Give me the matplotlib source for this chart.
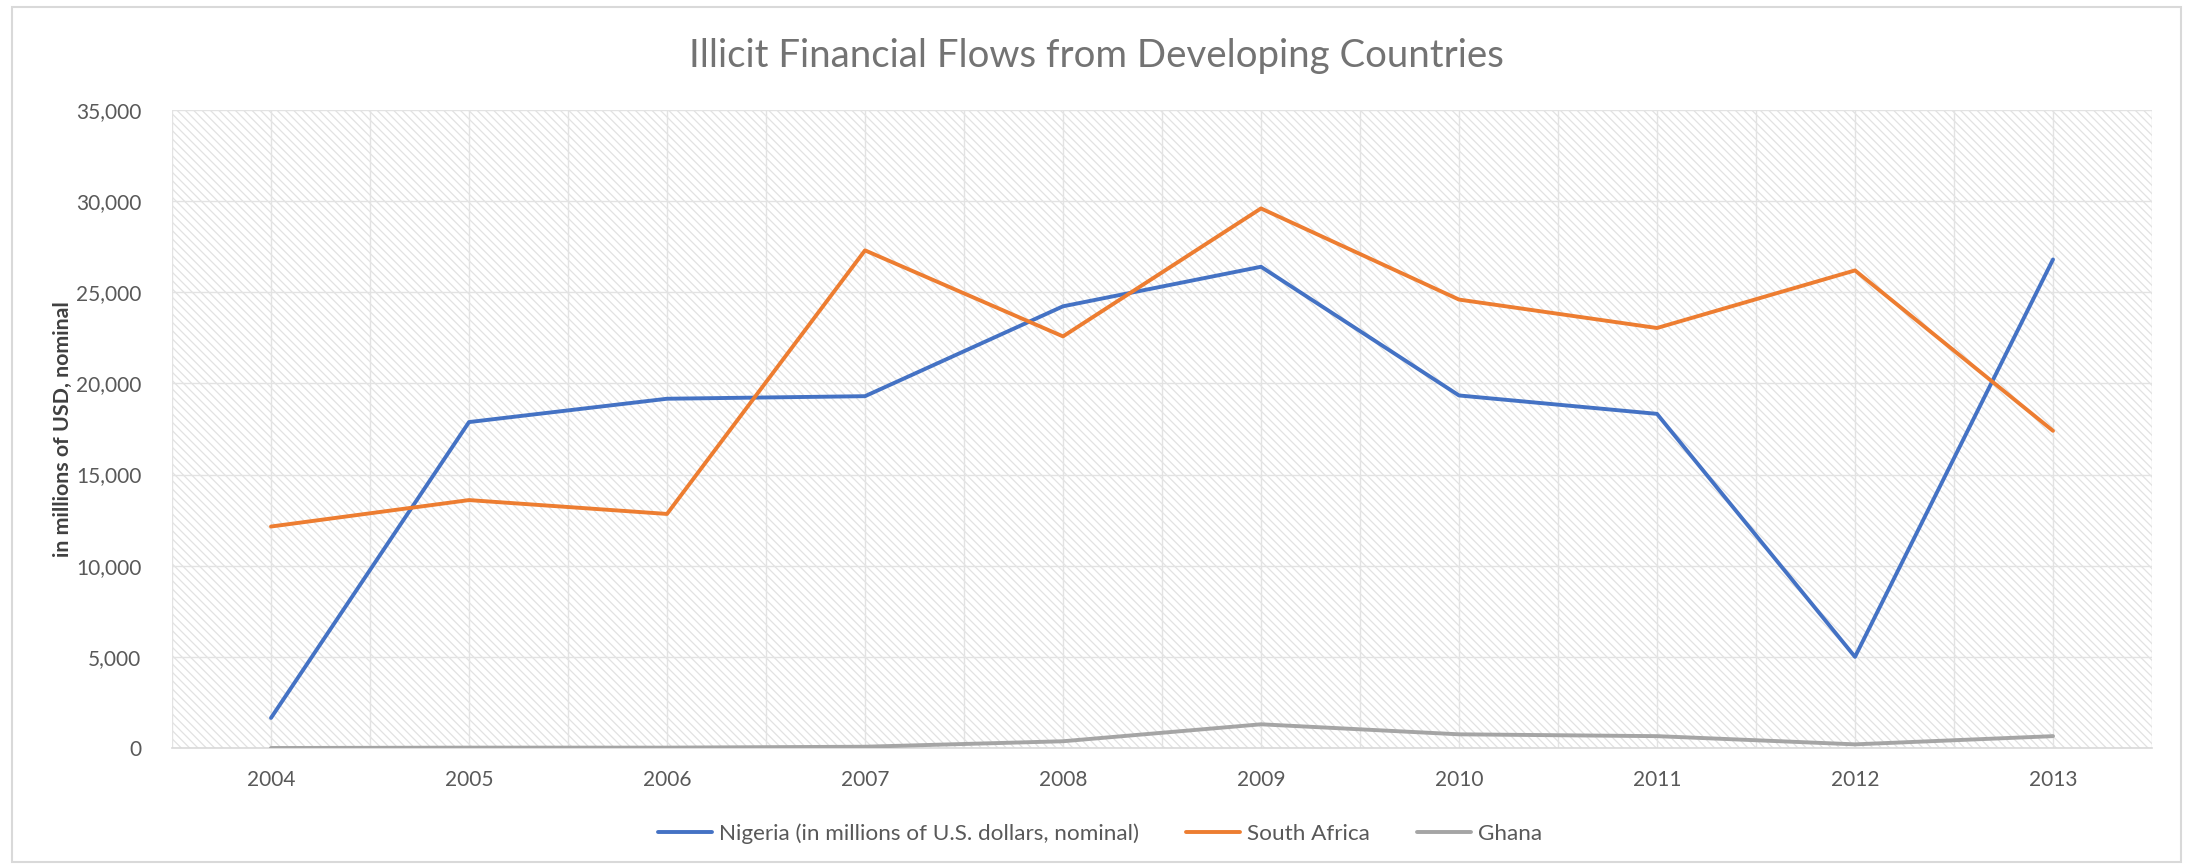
#!/usr/bin/env python3
# Illicit financial flows - line chart

import numpy as np
import matplotlib
matplotlib.use("Agg")
import matplotlib.pyplot as plt
from matplotlib.patches import Rectangle
from matplotlib.ticker import FuncFormatter, MultipleLocator

years = ["2004", "2005", "2006", "2007", "2008", "2009", "2010", "2011", "2012", "2013"]
nigeria = [1650, 17880, 19160, 19300, 24230, 26400, 19340, 18330, 5000, 26800]
south_africa = [12150, 13600, 12840, 27300, 22580, 29600, 24600, 23040, 26200, 17400]
ghana = [0, 20, 20, 70, 370, 1300, 750, 650, 200, 650]

labels = ["Nigeria (in millions of U.S. dollars, nominal)", "South Africa", "Ghana"]
colors = ["#4472C4", "#ED7D31", "#A5A5A5"]

plt.rcParams['font.family'] = ['Lato', 'DejaVu Sans']
plt.rcParams['hatch.linewidth'] = 0.9

W, H = 2193, 868
fig = plt.figure(figsize=(W / 100, H / 100), dpi=100)
ax = fig.add_axes([172 / W, 1 - 748 / H, (2152 - 172) / W, (748 - 110) / H])

# hatched plot area
ax.add_patch(Rectangle((0, 0), 1, 1, transform=ax.transAxes, facecolor="white",
                       edgecolor="#e2e2e2", hatch="\\\\\\\\", lw=0, zorder=0))

x = np.arange(len(years))
for vals, lab, col in zip([nigeria, south_africa, ghana], labels, colors):
    ax.plot(x, vals, color=col, lw=2.8, label=lab, solid_capstyle="round",
            solid_joinstyle="round", zorder=3)

ax.set_xlim(-0.5, len(years) - 0.5)
ax.set_ylim(0, 35000)
ax.yaxis.set_major_locator(MultipleLocator(5000))
ax.yaxis.set_major_formatter(FuncFormatter(lambda v, p: f"{int(v):,}"))
ax.set_xticks(x)
ax.set_xticklabels(years)
ax.xaxis.set_minor_locator(MultipleLocator(0.5))
ax.grid(True, which="both", axis="x", color="#e3e3e3", lw=1.0, zorder=1)
ax.grid(True, which="major", axis="y", color="#e3e3e3", lw=1.0, zorder=1)
ax.set_axisbelow(True)

for s in ["top", "right", "left"]:
    ax.spines[s].set_visible(False)
ax.spines["bottom"].set_color("#d9d9d9")
ax.spines["bottom"].set_linewidth(1.2)
ax.tick_params(which="both", length=0, labelsize=15, labelcolor="#595959")
ax.tick_params(axis="x", pad=16)
ax.tick_params(axis="y", pad=22)

ax.set_ylabel("in millions of USD, nominal", fontsize=15.4, fontweight="bold",
              color="#404040", labelpad=2)

fig.suptitle("Illicit Financial Flows from Developing Countries", y=1 - 56 / H,
             va="center", fontsize=27.6, color="#737373")

fig.legend(loc="center", bbox_to_anchor=(1100 / W, 1 - 834 / H), ncol=3,
           frameon=False, fontsize=16.2, labelcolor="#595959", handlelength=2.4,
           handletextpad=0.3, columnspacing=2.1)

# chart border
fig.add_artist(Rectangle((12 / W, 1 - 862 / H), (2181 - 12) / W, (862 - 7) / H,
                         transform=fig.transFigure, fill=False,
                         edgecolor="#d9d9d9", lw=1.5))

fig.savefig("out.png", dpi=100)
